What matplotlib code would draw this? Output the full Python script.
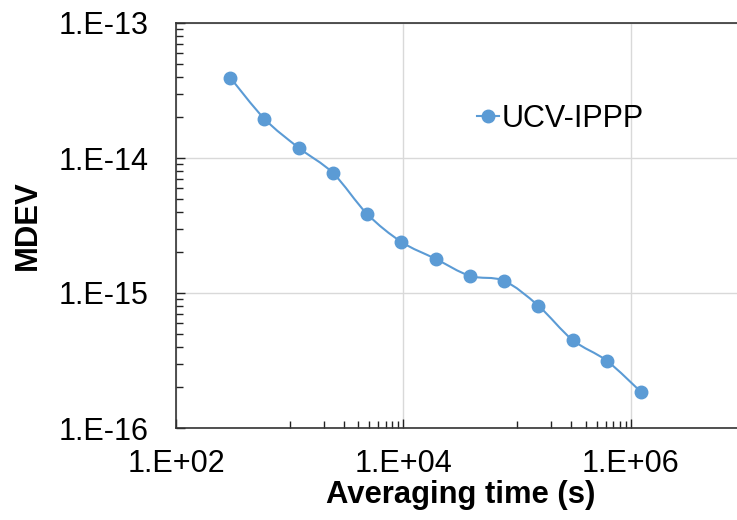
import numpy as np
import matplotlib
matplotlib.use("Agg")
import matplotlib.pyplot as plt
from matplotlib.path import Path
from matplotlib.patches import PathPatch
from matplotlib.ticker import FixedLocator, FuncFormatter, NullFormatter
from matplotlib.lines import Line2D

# Data
tau = [300, 600, 1200, 2400, 4800, 9600, 19200, 38400, 76800,
       153600, 307200, 614400, 1228800]
mdev = [3.94e-14, 1.95e-14, 1.19e-14, 7.74e-15, 3.85e-15, 2.39e-15, 1.79e-15,
        1.34e-15, 1.23e-15, 8.05e-16, 4.49e-16, 3.15e-16, 1.85e-16]
series_name = "UCV-IPPP"
x_major = [1e2, 1e4, 1e6]
y_major = [1e-16, 1e-15, 1e-14, 1e-13]

color = "#5B9BD5"
plt.rcParams['font.family'] = ['Liberation Sans', 'DejaVu Sans']

fig = plt.figure(figsize=(7.37, 5.2), dpi=100)
ax = fig.add_axes([176/737, 1-428/520, (744.5-176)/737, (428-23)/520])
ax.set_xscale('log')
ax.set_yscale('log')
ax.set_xlim(1e2, 1e7)
ax.set_ylim(1e-16, 1e-13)

# smoothed line (Catmull-Rom Bezier in log space)
lx = np.log10(tau)
ly = np.log10(mdev)
P = np.column_stack([lx, ly])
verts = [P[0]]
codes = [Path.MOVETO]
n = len(P)
for i in range(n - 1):
    p0 = P[i - 1] if i > 0 else P[i]
    p1 = P[i]
    p2 = P[i + 1]
    p3 = P[i + 2] if i + 2 < n else P[i + 1]
    c1 = p1 + (p2 - p0) / 6.0
    c2 = p2 - (p3 - p1) / 6.0
    verts += [c1, c2, p2]
    codes += [Path.CURVE4] * 3
verts = 10 ** np.array(verts)
patch = PathPatch(Path(verts, codes), fill=False, edgecolor=color, lw=1.5, zorder=3)
ax.add_patch(patch)
ax.plot(tau, mdev, linestyle='none', marker='o', ms=9, color=color,
        markeredgecolor=color, zorder=4)

# ticks
ax.xaxis.set_major_locator(FixedLocator(x_major))
minors = []
for base in [1e3, 1e5]:
    minors += [k * base for k in range(1, 10)]
ax.xaxis.set_minor_locator(FixedLocator(minors))
ax.yaxis.set_major_locator(FixedLocator(y_major))
ymin = []
for e in [-16, -15, -14]:
    ymin += [k * 10.0 ** e for k in range(2, 10)]
ax.yaxis.set_minor_locator(FixedLocator(ymin))

def fmt(v, pos):
    e = int(round(np.log10(v)))
    return "1.E%+03d" % e
ax.xaxis.set_major_formatter(FuncFormatter(fmt))
ax.yaxis.set_major_formatter(FuncFormatter(fmt))
ax.xaxis.set_minor_formatter(NullFormatter())
ax.yaxis.set_minor_formatter(NullFormatter())

ax.grid(True, which='major', color='#D9D9D9', lw=1.0, zorder=0)
ax.set_axisbelow(True)

ax.tick_params(axis='both', which='major', direction='in', length=6.5, width=1.0,
               labelsize=22, colors='#222222', labelcolor='black')
ax.tick_params(axis='both', which='minor', direction='in', length=5, width=1.0,
               colors='#222222')
ax.tick_params(axis='x', which='major', pad=15)
ax.tick_params(axis='y', which='major', pad=20)
ax.tick_params(top=False, right=False, which='both')

for s in ax.spines.values():
    s.set_color('#333333')
    s.set_linewidth(1.2)

ax.set_xlabel("Averaging time (s)", fontsize=22.3, fontweight='bold', labelpad=1)
ax.set_ylabel("MDEV", fontsize=22.3, fontweight='bold', labelpad=11)

h = Line2D([], [], color=color, lw=1.5, marker='o', ms=9)
ax.legend([h], [series_name], loc='center left',
          bbox_to_anchor=((477-176)/568.5, (428-119)/405),
          frameon=False, fontsize=22, handlelength=0.72, handletextpad=0.1,
          borderpad=0, borderaxespad=0)

fig.savefig("out.png", dpi=100)
